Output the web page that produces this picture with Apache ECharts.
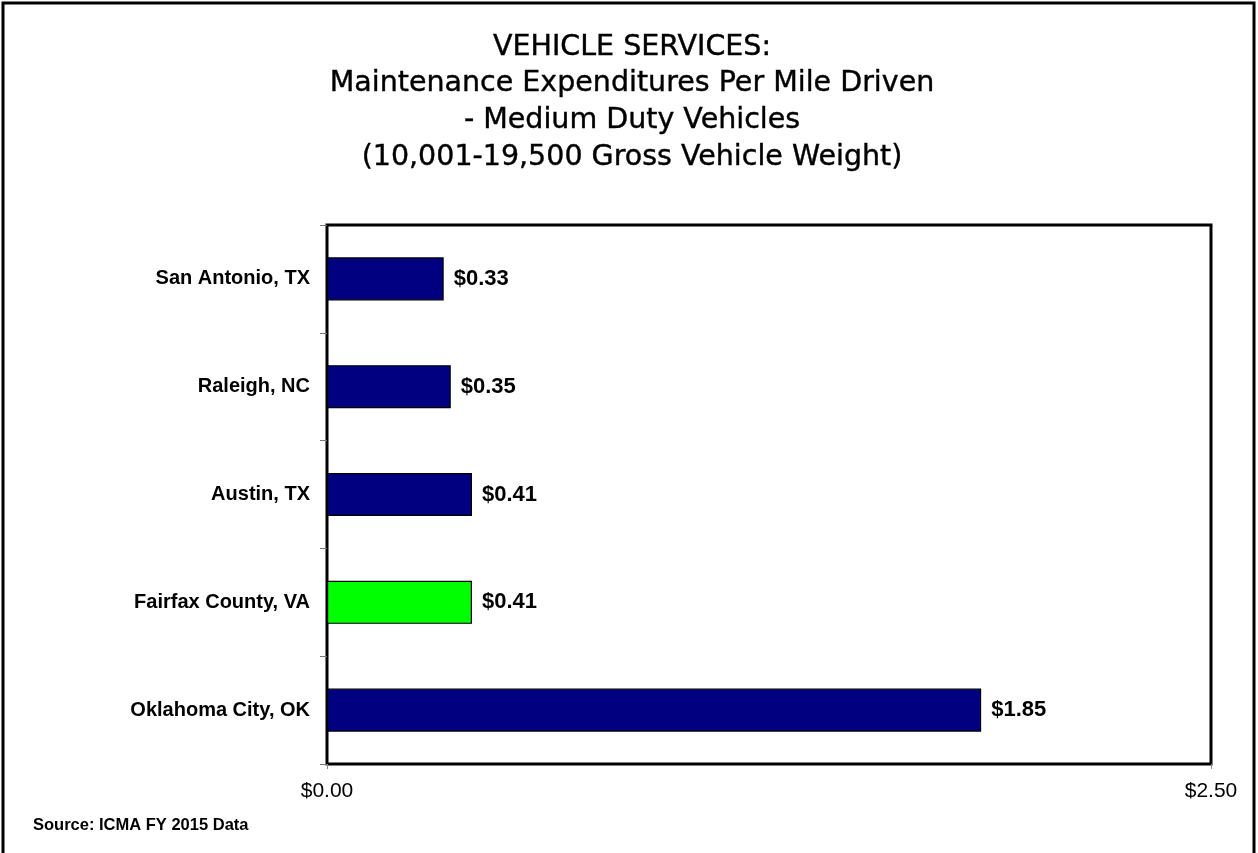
<!DOCTYPE html>
<html><head><meta charset="utf-8">
<script src="https://cdn.jsdelivr.net/npm/echarts@6/dist/echarts.min.js"></script>
<style>html,body{margin:0;padding:0;background:#fff}#c{width:1258px;height:853px}</style>
</head><body><div id="c"></div>
<script>
const categories = ["San Antonio, TX", "Raleigh, NC", "Austin, TX", "Fairfax County, VA", "Oklahoma City, OK"];
const values = [0.33, 0.35, 0.41, 0.41, 1.85];
const barColors = ["#000080", "#000080", "#000080", "#00FF00", "#000080"];
const xTicks = { min: 0, max: 2.5, interval: 2.5 };
const titleLines = ["VEHICLE SERVICES:", "Maintenance Expenditures Per Mile Driven", "- Medium Duty Vehicles", "(10,001-19,500 Gross Vehicle Weight)"];
const sourceText = "Source: ICMA FY 2015 Data";

const FONT = '"Liberation Sans", Arial, sans-serif';
const chart = echarts.init(document.getElementById('c'));
chart.setOption({
  animation: false,
  backgroundColor: '#fff',
  title: {
    text: titleLines.join('\n'),
    left: 627, top: 24, textAlign: 'center',
    textStyle: { fontFamily: '"DejaVu Sans", sans-serif', fontSize: 28.5, fontWeight: 'normal', lineHeight: 36.7, color: '#000', textBorderColor: '#000', textBorderWidth: 0.4 }
  },
  graphic: [
    { type: 'rect', shape: { x: 3, y: 3, width: 1251, height: 852 }, style: { fill: 'none', stroke: '#000', lineWidth: 3 }, z: 100 },
    { type: 'text', left: 33, top: 817, style: { text: sourceText, font: 'bold 16.5px ' + FONT, fill: '#000' } }
  ],
  grid: { left: 327, right: 47, top: 225, bottom: 89, show: true, borderColor: '#000', borderWidth: 3, containLabel: false },
  xAxis: {
    type: 'value', min: xTicks.min, max: xTicks.max, interval: xTicks.interval,
    splitLine: { show: false },
    axisLine: { show: false },
    axisTick: { show: true, length: 5, lineStyle: { color: '#888' } },
    axisLabel: { margin: 17, fontSize: 21, color: '#000', fontFamily: FONT, formatter: v => '$' + v.toFixed(2) }
  },
  yAxis: {
    type: 'category', data: categories, inverse: true,
    axisLine: { show: false },
    axisTick: { show: true, length: 7, lineStyle: { color: '#777' } },
    axisLabel: { margin: 17, fontSize: 20, fontWeight: 'bold', color: '#000', fontFamily: FONT }
  },
  series: [{
    type: 'bar',
    data: values.map((v, i) => ({ value: v, itemStyle: { color: barColors[i] } })),
    barCategoryGap: '60%',
    itemStyle: { borderColor: '#000', borderWidth: 1.2 },
    label: { show: true, position: 'right', distance: 10, fontSize: 22, fontWeight: 'bold', color: '#000', fontFamily: FONT, formatter: p => '$' + p.value.toFixed(2) }
  }]
});
</script></body></html>
